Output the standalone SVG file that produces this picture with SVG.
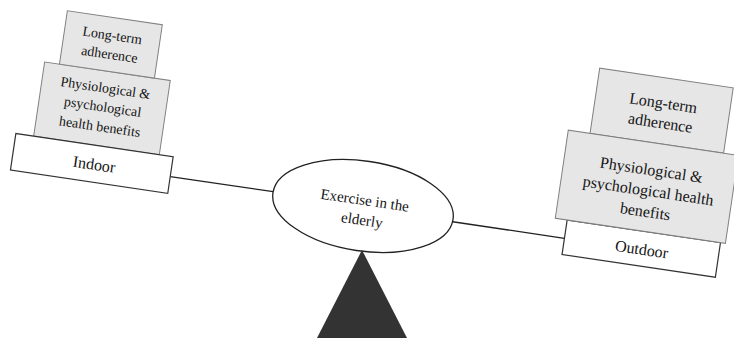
<svg xmlns="http://www.w3.org/2000/svg" width="734" height="338" viewBox="0 0 734 338">
<style>
.gray{fill:#e6e6e6;stroke:#808080;stroke-width:1}
.white{fill:#fff;stroke:#333;stroke-width:1.2}
.t{font-family:"Liberation Serif","Times New Roman",serif;fill:#151515;text-anchor:middle;dominant-baseline:central}
.s14{font-size:14px}
.s16{font-size:16px}
.s15{font-size:15px}
.conn{stroke:#222;stroke-width:1.3;fill:none}
</style>
<rect width="734" height="338" fill="#fff"/>
<g transform="rotate(8.4 363 206)">
  <g id="connectors">
    <line class="conn" x1="168" y1="205" x2="272" y2="205"/>
    <line class="conn" x1="454" y1="208.5" x2="567" y2="208.5"/>
  </g>
  <g id="left-physio">
    <rect class="gray" x="27" y="110" width="127" height="75"/>
    <text class="t s14" x="91" y="127">Physiological &amp;</text>
    <text class="t s14" x="91" y="146">psychological</text>
    <text class="t s14" x="91" y="166">health benefits</text>
  </g>
  <g id="left-adherence">
    <rect class="gray" x="42" y="56" width="96" height="54"/>
    <text class="t s14" x="90" y="74">Long-term</text>
    <text class="t s14" x="90" y="93">adherence</text>
  </g>
  <g id="indoor">
    <rect class="white" x="9" y="185" width="159" height="37"/>
    <text class="t s16" x="91" y="204">Indoor</text>
  </g>
  <g id="center">
    <ellipse cx="363" cy="206" rx="91" ry="45" fill="#fff" stroke="#222" stroke-width="1.3"/>
    <text class="t s15" x="364" y="200">Exercise in the</text>
    <text class="t s15" x="364" y="220">elderly</text>
  </g>
  <g id="outdoor">
    <rect class="white" x="567" y="190" width="155" height="35"/>
    <text class="t s16" x="645" y="208">Outdoor</text>
  </g>
  <g id="right-adherence">
    <rect class="gray" x="577" y="35" width="135" height="66"/>
    <text class="t s16" x="645" y="60">Long-term</text>
    <text class="t s16" x="645" y="80">adherence</text>
  </g>
  <g id="right-physio">
    <rect class="gray" x="555" y="101" width="172" height="89"/>
    <text class="t s16" x="643" y="128">Physiological &amp;</text>
    <text class="t s16" x="643" y="149">psychological health</text>
    <text class="t s16" x="643" y="170">benefits</text>
  </g>
</g>
<g id="fulcrum">
  <polygon points="362,250 317,338 407,338" fill="#333"/>
</g>
</svg>
